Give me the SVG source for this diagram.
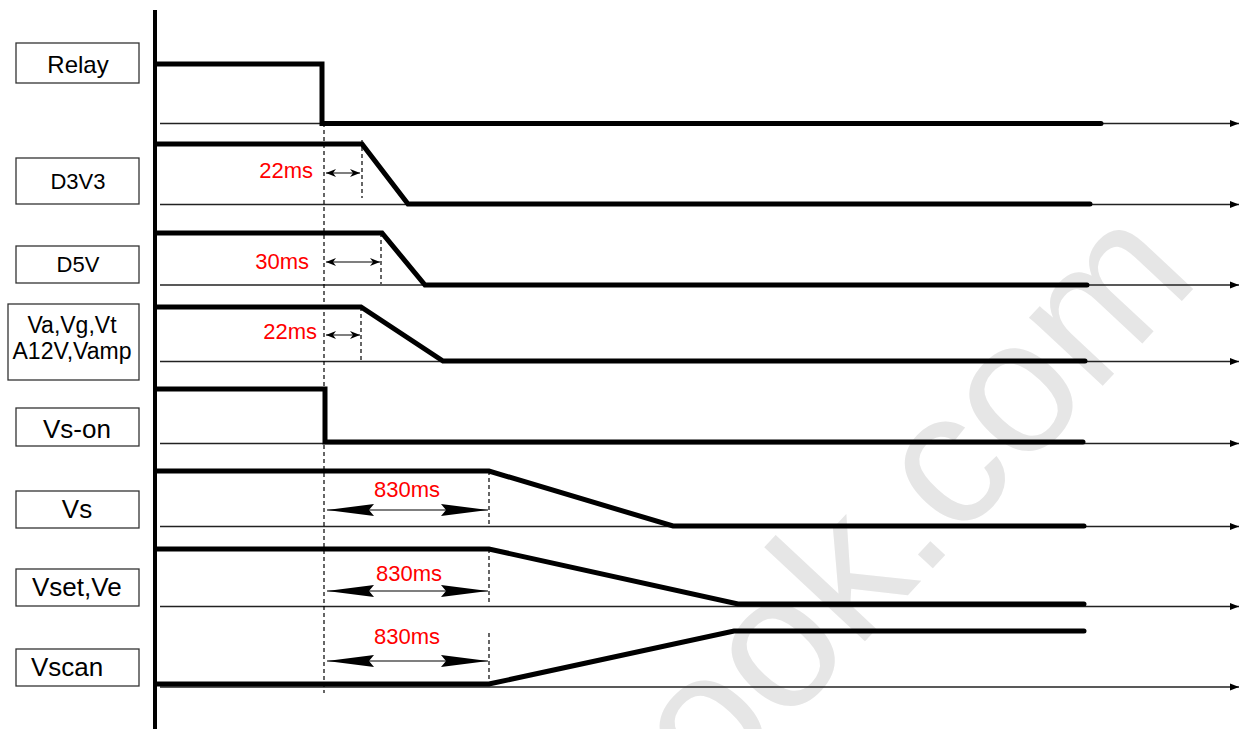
<svg xmlns="http://www.w3.org/2000/svg" width="1239" height="729" viewBox="0 0 1239 729">
<style>
.box{fill:#fff;stroke:#333;stroke-width:1.3}
.lbl{font-family:"Liberation Sans",Arial,sans-serif;fill:#000}
.red{font-family:"Liberation Sans",Arial,sans-serif;fill:#ff0000;font-size:22px}
.wave{fill:none;stroke:#000;stroke-width:5;stroke-linecap:round;stroke-linejoin:miter}
.base{fill:none;stroke:#222;stroke-width:1.3;marker-end:url(#axArrow)}
.dash{fill:none;stroke:#000;stroke-width:1.2;stroke-dasharray:4 3}
.dim{fill:none;stroke:#000;stroke-width:1.2}
.wm{font-family:"Liberation Sans",Arial,sans-serif;fill:#e6e6e6;font-size:190px}
</style>
<defs>
<marker id="axArrow" markerUnits="userSpaceOnUse" markerWidth="10" markerHeight="8" refX="9" refY="4" orient="auto"><path d="M0,0.5 L9,4 L0,7.5 Z" fill="#000"/></marker>
<marker id="small" markerUnits="userSpaceOnUse" markerWidth="11" markerHeight="10" refX="10" refY="5" orient="auto-start-reverse"><path d="M0,1 L10,5 L0,9 L3,5 Z" fill="#000"/></marker>
<marker id="big" markerUnits="userSpaceOnUse" markerWidth="48" markerHeight="14" refX="47" refY="7" orient="auto-start-reverse"><path d="M0,1 L47,7 L0,13 L5,7 Z" fill="#000"/></marker>
</defs>
<rect width="1239" height="729" fill="#fff"/>
<text class="wm" transform="translate(712,805) rotate(-47)">ook.com</text>

<g id="axis"><line x1="155" y1="10" x2="155" y2="729" stroke="#000" stroke-width="4"/></g>

<g id="connectors">
<line class="base" x1="160" y1="123.5" x2="1239" y2="123.5"/>
<line class="base" x1="160" y1="204.5" x2="1239" y2="204.5"/>
<line class="base" x1="160" y1="285" x2="1239" y2="285"/>
<line class="base" x1="160" y1="361.5" x2="1239" y2="361.5"/>
<line class="base" x1="160" y1="443.5" x2="1239" y2="443.5"/>
<line class="base" x1="160" y1="526.5" x2="1239" y2="526.5"/>
<line class="base" x1="160" y1="606.5" x2="1239" y2="606.5"/>
<line class="base" x1="160" y1="687" x2="1239" y2="687"/>
<line class="dash" x1="324" y1="123" x2="324" y2="693"/>
<line class="dash" x1="362" y1="140" x2="362" y2="198"/>
<line class="dash" x1="381" y1="233" x2="381" y2="284"/>
<line class="dash" x1="361" y1="307" x2="361" y2="361"/>
<line class="dash" x1="489" y1="471" x2="489" y2="525"/>
<line class="dash" x1="489" y1="549" x2="489" y2="605"/>
<line class="dash" x1="489" y1="633" x2="489" y2="684"/>
</g>

<g id="relay">
<rect class="box" x="16" y="43" width="123" height="40"/>
<text class="lbl" x="78" y="73" font-size="24" text-anchor="middle">Relay</text>
<path class="wave" d="M157,64 H322 V123.5 H1101"/>
</g>
<g id="d3v3">
<rect class="box" x="16" y="158" width="123" height="46"/>
<text class="lbl" x="78" y="189" font-size="22" text-anchor="middle">D3V3</text>
<path class="wave" d="M157,144 H362 L408,204 H1090"/>
<line class="dim" x1="326" y1="173" x2="360" y2="173" marker-start="url(#small)" marker-end="url(#small)"/>
<text class="red" x="313" y="178" text-anchor="end">22ms</text>
</g>
<g id="d5v">
<rect class="box" x="16" y="246" width="123" height="37"/>
<text class="lbl" x="78" y="272" font-size="22" text-anchor="middle">D5V</text>
<path class="wave" d="M157,233 H382 L425,285 H1087"/>
<line class="dim" x1="326" y1="262" x2="380" y2="262" marker-start="url(#small)" marker-end="url(#small)"/>
<text class="red" x="309" y="269" text-anchor="end">30ms</text>
</g>
<g id="va">
<rect class="box" x="8" y="304" width="131" height="76"/>
<text class="lbl" x="72" y="333" font-size="23" text-anchor="middle">Va,Vg,Vt</text>
<text class="lbl" x="72" y="359" font-size="23" text-anchor="middle">A12V,Vamp</text>
<path class="wave" d="M157,307 H361 L443,361 H1085"/>
<line class="dim" x1="326" y1="335" x2="360" y2="335" marker-start="url(#small)" marker-end="url(#small)"/>
<text class="red" x="317" y="339" text-anchor="end">22ms</text>
</g>
<g id="vson">
<rect class="box" x="16" y="408" width="123" height="38"/>
<text class="lbl" x="77" y="438" font-size="26" text-anchor="middle">Vs-on</text>
<path class="wave" d="M157,389 H325 V442 H1083"/>
</g>
<g id="vs">
<rect class="box" x="16" y="491" width="123" height="37"/>
<text class="lbl" x="77" y="518" font-size="26" text-anchor="middle">Vs</text>
<path class="wave" d="M157,471 H489 L673,526 H1084"/>
<line class="dim" x1="327" y1="510" x2="488" y2="510" marker-start="url(#big)" marker-end="url(#big)"/>
<text class="red" x="407" y="497" text-anchor="middle">830ms</text>
</g>
<g id="vset">
<rect class="box" x="16" y="569" width="123" height="37"/>
<text class="lbl" x="32" y="596" font-size="26">Vset,Ve</text>
<path class="wave" d="M157,549 H489 L738,604 H1084"/>
<line class="dim" x1="327" y1="591" x2="488" y2="591" marker-start="url(#big)" marker-end="url(#big)"/>
<text class="red" x="409" y="581" text-anchor="middle">830ms</text>
</g>
<g id="vscan">
<rect class="box" x="16" y="649" width="123" height="37"/>
<text class="lbl" x="31" y="676" font-size="26">Vscan</text>
<path class="wave" d="M157,684 H489 L734,631 H1084"/>
<line class="dim" x1="327" y1="661" x2="488" y2="661" marker-start="url(#big)" marker-end="url(#big)"/>
<text class="red" x="407" y="644" text-anchor="middle">830ms</text>
</g>
</svg>
